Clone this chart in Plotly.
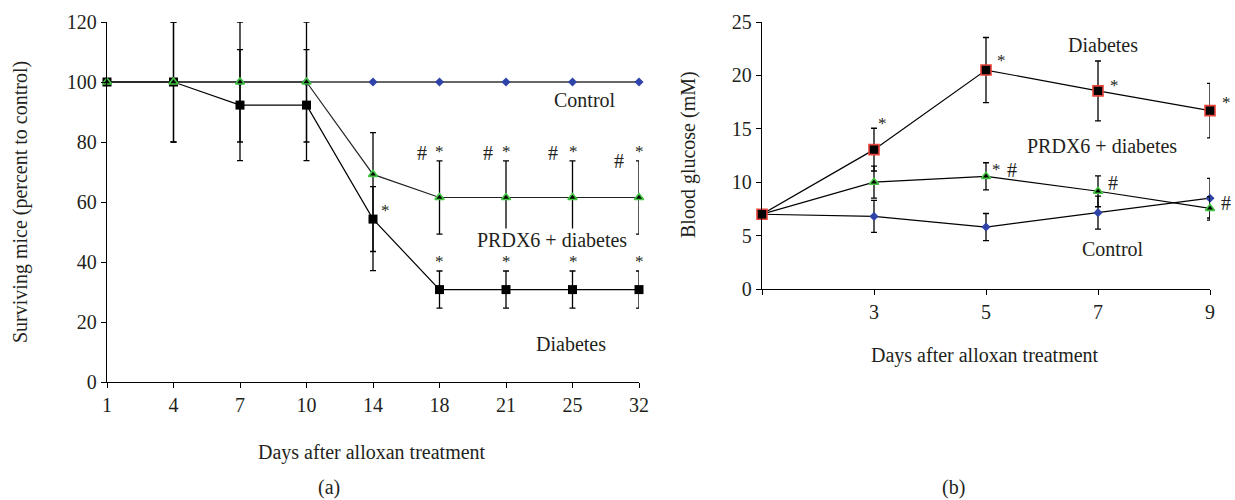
import plotly.graph_objects as go

# ---------- Panel (a): survival ----------
days_a = ["1", "4", "7", "10", "14", "18", "21", "25", "32"]
control_a = [100, 100, 100, 100, 100, 100, 100, 100, 100]
prdx6_a = [100, 100, 100, 100, 69.2, 61.5, 61.5, 61.5, 61.5]
prdx6_a_up = [0, 20, 20, 20, 13.9, 12.2, 12.2, 12.2, 12.2]
prdx6_a_dn = [0, 20, 20, 20, 32.1, 12.2, 12.2, 12.2, 12.2]
diab_a = [100, 100, 92.3, 92.3, 54.3, 30.8, 30.8, 30.8, 30.8]
diab_a_err = [0, 20, 18.5, 18.5, 10.8, 6.2, 6.2, 6.2, 6.2]

# ---------- Panel (b): blood glucose ----------
days_b = [1, 3, 5, 7, 9]
control_b = [7.0, 6.8, 5.8, 7.15, 8.5]
control_b_err = [0, 1.5, 1.27, 1.55, 1.85]
prdx6_b = [7.0, 10.0, 10.55, 9.15, 7.55]
prdx6_b_err = [0, 1.5, 1.27, 1.45, 1.1]
diab_b = [7.0, 13.05, 20.5, 18.55, 16.7]
diab_b_err = [0, 2.0, 3.05, 2.8, 2.55]

FONT = "Liberation Serif"
TXT = "#231f20"
BLUE = "#2f44a8"
GREEN = "#44c444"
RED = "#e8453a"

W, H = 1235, 500
def px(x):
    return x / W
def py(y):
    return 1 - y / H

xi = list(range(len(days_a)))

fig = go.Figure()

err_style = dict(color="black", thickness=1.3, width=3)

# Panel a traces
fig.add_trace(go.Scatter(
    x=xi, y=control_a, mode="lines+markers", xaxis="x", yaxis="y",
    line=dict(color="#333333", width=1.4),
    marker=dict(symbol="diamond", size=7, color=BLUE),
    cliponaxis=False, showlegend=False))
fig.add_trace(go.Scatter(
    x=xi, y=diab_a, mode="lines+markers", xaxis="x", yaxis="y",
    line=dict(color="black", width=1.2),
    marker=dict(symbol="square", size=9, color="black"),
    error_y=dict(type="data", array=diab_a_err, visible=True, **err_style),
    cliponaxis=False, showlegend=False))
fig.add_trace(go.Scatter(
    x=xi, y=prdx6_a, mode="lines+markers", xaxis="x", yaxis="y",
    line=dict(color="#222222", width=1.2),
    marker=dict(symbol="triangle-up", size=8, color="black",
                line=dict(color=GREEN, width=1.6)),
    error_y=dict(type="data", array=prdx6_a_up, arrayminus=prdx6_a_dn,
                 symmetric=False, visible=True, **err_style),
    cliponaxis=False, showlegend=False))

# Panel b traces
fig.add_trace(go.Scatter(
    x=days_b, y=control_b, mode="lines+markers", xaxis="x2", yaxis="y2",
    line=dict(color="black", width=1.2),
    marker=dict(symbol="diamond", size=7, color=BLUE),
    error_y=dict(type="data", array=control_b_err, visible=True, **err_style),
    cliponaxis=False, showlegend=False))
fig.add_trace(go.Scatter(
    x=days_b, y=prdx6_b, mode="lines+markers", xaxis="x2", yaxis="y2",
    line=dict(color="black", width=1.2),
    marker=dict(symbol="triangle-up", size=8, color="black",
                line=dict(color=GREEN, width=1.6)),
    error_y=dict(type="data", array=prdx6_b_err, visible=True, **err_style),
    cliponaxis=False, showlegend=False))
fig.add_trace(go.Scatter(
    x=days_b, y=diab_b, mode="lines+markers", xaxis="x2", yaxis="y2",
    line=dict(color="black", width=1.2),
    marker=dict(symbol="square", size=10, color="black",
                line=dict(color=RED, width=1.6)),
    error_y=dict(type="data", array=diab_b_err, visible=True, **err_style),
    cliponaxis=False, showlegend=False))

ann = []
def t(x, y, text, size=20, **kw):
    # x, y in reference pixels
    d = dict(x=px(x), y=py(y), xref="paper", yref="paper", text=text, showarrow=False,
             font=dict(family=FONT, size=size, color=TXT),
             xanchor="center", yanchor="middle")
    d.update(kw)
    ann.append(d)

# Panel a labels
t(585, 100, "Control")
t(552, 240, "PRDX6 + diabetes", bgcolor="white", borderpad=0)
t(571, 344, "Diabetes")
for xx in [440, 506, 573, 639]:
    t(xx, 151, "*", size=17)
    t(xx, 261, "*", size=17)
for xx, yy in zip([422, 488, 553, 619], [153, 153, 153, 161]):
    t(xx, yy, "#", size=20)
t(385, 211, "*", size=17)

# Panel b labels
t(1103, 45, "Diabetes")
t(1102, 146, "PRDX6 + diabetes")
t(1113, 249, "Control")
t(882, 123, "*", size=17)
t(1002, 60, "*", size=17)
t(1114, 85, "*", size=17)
t(1226, 103, "*", size=17, borderpad=0)
t(996, 169, "*", size=17)
t(1012, 170, "#", size=20)
t(1113, 183, "#", size=20)
t(1226, 203, "#", size=20, borderpad=0)

# Titles
t(372, 452, "Days after alloxan treatment")
t(985, 355, "Days after alloxan treatment")
t(329, 487, "(a)", borderpad=0)
t(953, 487, "(b)", borderpad=0)
t(20, 202, "Surviving mice (percent to control)", textangle=-90)
t(688, 155, "Blood glucose (mM)", textangle=-90)

axis_common = dict(showgrid=False, zeroline=False, showline=True, linecolor="black",
                   linewidth=1.3, ticks="outside", ticklen=5, tickwidth=1.3,
                   tickcolor="black", automargin=False,
                   tickfont=dict(family=FONT, size=20, color=TXT))

fig.update_layout(
    template="none",
    width=W, height=H,
    margin=dict(l=0, r=0, t=0, b=0, pad=0),
    paper_bgcolor="white", plot_bgcolor="white",
    hovermode=False,
    xaxis=dict(domain=[px(107), px(639)], range=[0, 8], tickvals=xi, ticktext=days_a,
               anchor="y", **axis_common),
    yaxis=dict(domain=[py(382), py(22)], range=[0, 120], tickvals=[0, 20, 40, 60, 80, 100, 120],
               anchor="x", **axis_common),
    xaxis2=dict(domain=[px(762), px(1210)], range=[1, 9], tickvals=[1, 3, 5, 7, 9],
                ticktext=["", "3", "5", "7", "9"], anchor="y2", **axis_common),
    yaxis2=dict(domain=[py(289), py(22)], range=[0, 25], tickvals=[0, 5, 10, 15, 20, 25],
                anchor="x2", **axis_common),
    annotations=ann,
)

fig.write_html(
    "out.html",
    config={"displayModeBar": False},
    post_script="document.body.style.margin='0px';document.body.style.overflow='hidden';",
)
